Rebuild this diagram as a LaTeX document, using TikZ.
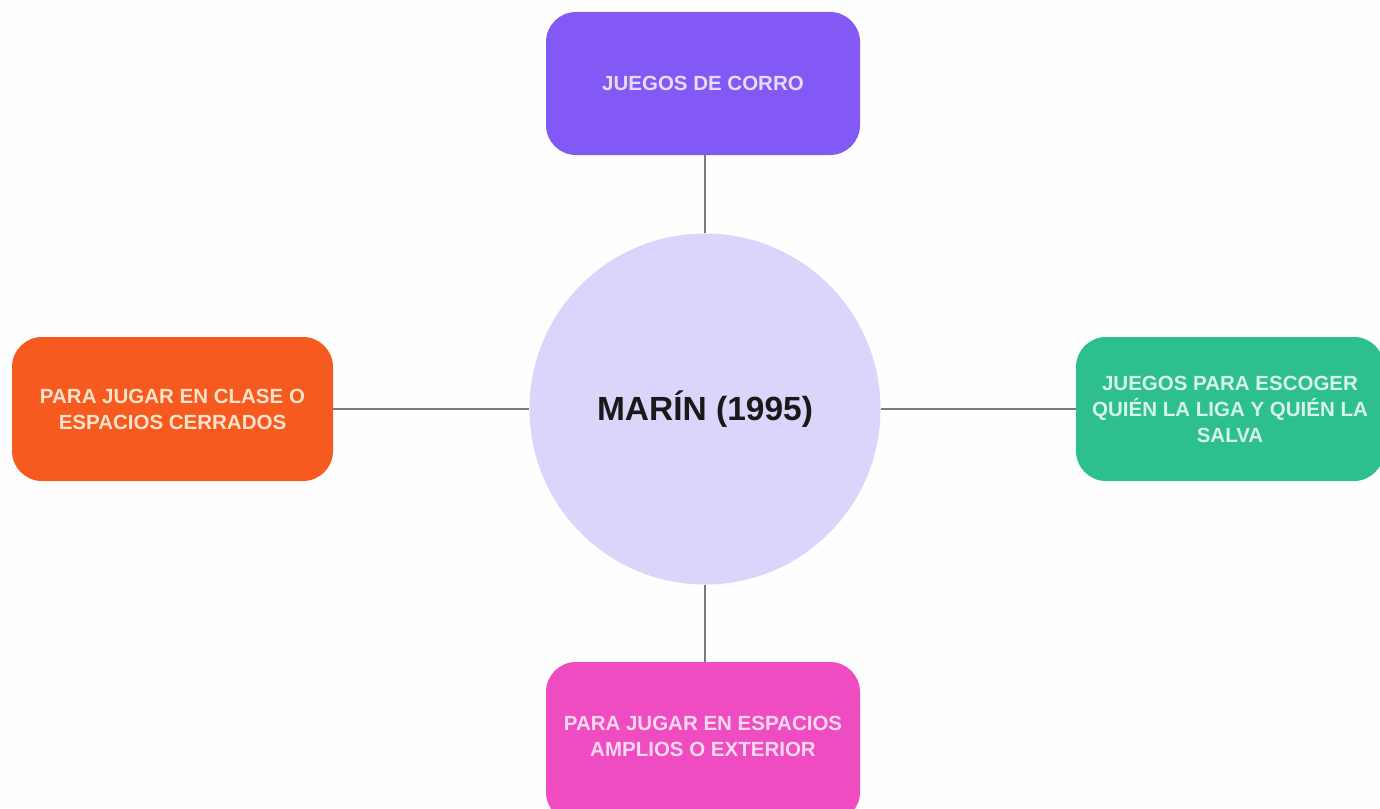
\documentclass[tikz,border=0pt]{standalone}
\usepackage{fontspec}
\setmainfont{Liberation Sans}
\definecolor{bgc}{HTML}{FEFEFE}
\definecolor{topc}{HTML}{8359F6}
\definecolor{toptxt}{HTML}{E6DDFB}
\definecolor{leftc}{HTML}{F75A1F}
\definecolor{lefttxt}{HTML}{FCE3CC}
\definecolor{rightc}{HTML}{2DBF8F}
\definecolor{righttxt}{HTML}{D7F6E8}
\definecolor{botc}{HTML}{F04CC2}
\definecolor{bottxt}{HTML}{FBD8F0}
\definecolor{circc}{HTML}{DCD5FB}
\definecolor{linec}{HTML}{7A7A7A}
\tikzset{
  boxfont/.style={font=\bfseries\fontsize{20.5}{26}\selectfont},
  boxnode/.style={rectangle, rounded corners=30pt, inner sep=0pt, align=center, boxfont},
  hub/.style={circle, fill=circc, inner sep=0pt, minimum size=351pt,
    font=\bfseries\fontsize{33.5}{38}\selectfont, text=black!90},
  link/.style={draw=linec, line width=2pt}
}
\begin{document}
\begin{tikzpicture}[x=1pt,y=-1pt]
\fill[bgc] (0,0) rectangle (1380,808);
\useasboundingbox (0,0) rectangle (1380,808);
\clip (0,0) rectangle (1380,808);
\node[hub] (c) at (705,409) {MARÍN (1995)};
\node[boxnode, fill=topc, text=toptxt, minimum width=314pt, minimum height=143pt] (t) at (703,83.5) {JUEGOS DE CORRO};
\node[boxnode, fill=leftc, text=lefttxt, minimum width=321pt, minimum height=144pt] (l) at (172.5,409) {PARA JUGAR EN CLASE O\\ESPACIOS CERRADOS};
\node[boxnode, fill=rightc, text=righttxt, minimum width=308pt, minimum height=144pt] (r) at (1230,409) {JUEGOS PARA ESCOGER\\QUIÉN LA LIGA Y QUIÉN LA\\SALVA};
\node[boxnode, fill=botc, text=bottxt, minimum width=314pt, minimum height=160pt] (b) at (703,742) {};
\node[boxfont, text=bottxt, align=center] (bt) at (703,736) {PARA JUGAR EN ESPACIOS\\AMPLIOS O EXTERIOR};
\coordinate (tc) at (705,155);
\coordinate (bc) at (705,662);
\draw[link] (tc) -- (c.north);
\draw[link] (c.south) -- (bc);
\draw[link] (l.east) -- (c.west);
\draw[link] (c.east) -- (r.west);
\end{tikzpicture}
\end{document}
